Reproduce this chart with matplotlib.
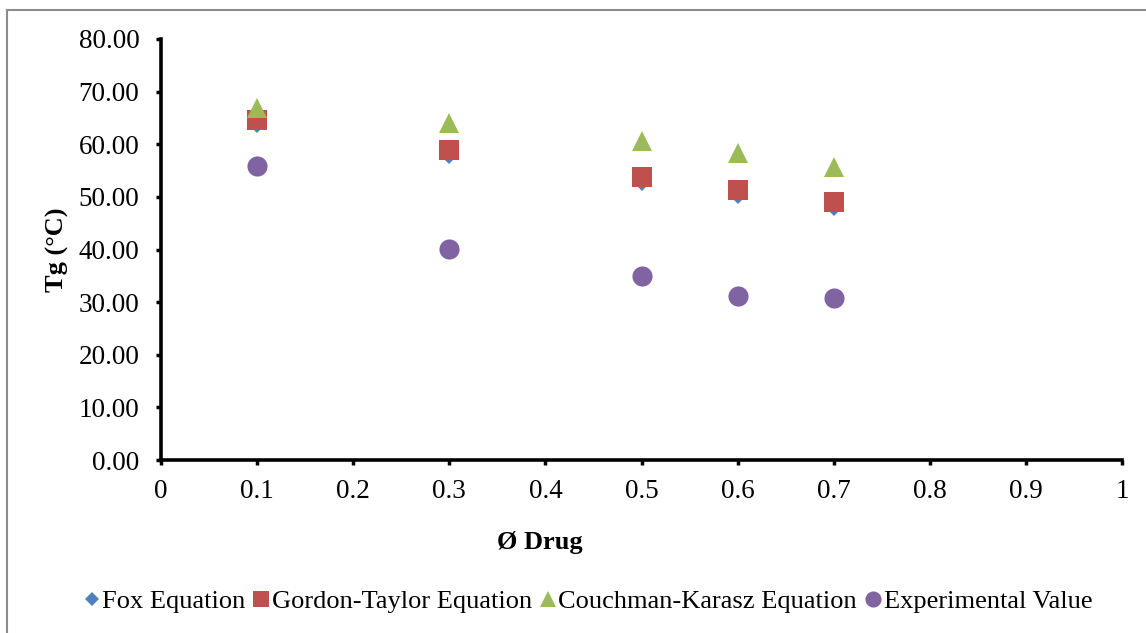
"""Glass transition temperature vs drug fraction: predicted (Fox, Gordon-Taylor,
Couchman-Karasz) against experimental values."""
import matplotlib
matplotlib.use("Agg")
import matplotlib.pyplot as plt
from matplotlib.lines import Line2D
from matplotlib.patches import Rectangle

phi_drug = [0.1, 0.3, 0.5, 0.6, 0.7]
fox = [63.9, 58.0, 52.9, 50.4, 48.1]
gordon_taylor = [64.6, 58.9, 53.8, 51.3, 49.0]
couchman_karasz = [66.9, 64.1, 60.6, 58.4, 55.7]
experimental = [55.9, 40.1, 35.0, 31.2, 30.8]

series = [
    ("Fox Equation", fox, "D", "#4F81BD", 9),
    ("Gordon-Taylor Equation", gordon_taylor, "s", "#C0504D", 14),
    ("Couchman-Karasz Equation", couchman_karasz, "^", "#9BBB59", 15),
    ("Experimental Value", experimental, "o", "#8064A2", 14.5),
]

plt.rcParams["font.family"] = ["Liberation Serif", "DejaVu Serif"]

W, H = 1146, 633
fig = plt.figure(figsize=(W / 100, H / 100), dpi=100)
ax = fig.add_axes([161 / W, 1 - 460 / H, (1122 - 161) / W, (460 - 39) / H])

for name, ys, mk, col, ms in series:
    ax.plot(phi_drug, ys, linestyle="none", marker=mk, color=col,
            markersize=ms, markeredgewidth=0, label=name, clip_on=False)

ax.set_xlim(0, 1)
ax.set_ylim(0, 80)
ax.set_xticks([i / 10 for i in range(11)])
ax.set_xticklabels(["0", "0.1", "0.2", "0.3", "0.4", "0.5", "0.6", "0.7", "0.8", "0.9", "1"])
ax.set_yticks(range(0, 81, 10))
ax.set_yticklabels([f"{v:.2f}" for v in range(0, 81, 10)])
ax.tick_params(labelsize=19.5, width=2.5, length=3.5, direction="out")
ax.tick_params(axis="y", pad=12)
ax.tick_params(axis="x", pad=10)

for side in ("top", "right"):
    ax.spines[side].set_visible(False)
for side in ("left", "bottom"):
    ax.spines[side].set_linewidth(2.6)
    ax.spines[side].set_capstyle("projecting")

fig.text(540 / W, 1 - 543 / H, "Ø Drug", ha="center", va="center",
         fontsize=19, fontweight="bold")
fig.text(57 / W, 1 - 250 / H, "Tg (°C)", ha="center", va="center",
         fontsize=19, fontweight="bold", rotation=90)

handles = [Line2D([], [], linestyle="none", marker=mk, color=col,
                  markersize=ms * 0.8, markeredgewidth=0)
           for _, _, mk, col, ms in series]
fig.legend(handles, [s[0] for s in series], loc="center", ncol=4,
           bbox_to_anchor=(588 / W, 1 - 601 / H), frameon=False, fontsize=19,
           handlelength=0.6, handletextpad=0.1, columnspacing=0.3)

# light frame around the chart area
fig.patches.append(Rectangle((7 / W, -0.05), 1.1, 1 - 10 / H + 0.05,
                             transform=fig.transFigure, fill=False,
                             edgecolor="#8c8c8c", linewidth=1.5))

fig.savefig("out.png", dpi=100)
